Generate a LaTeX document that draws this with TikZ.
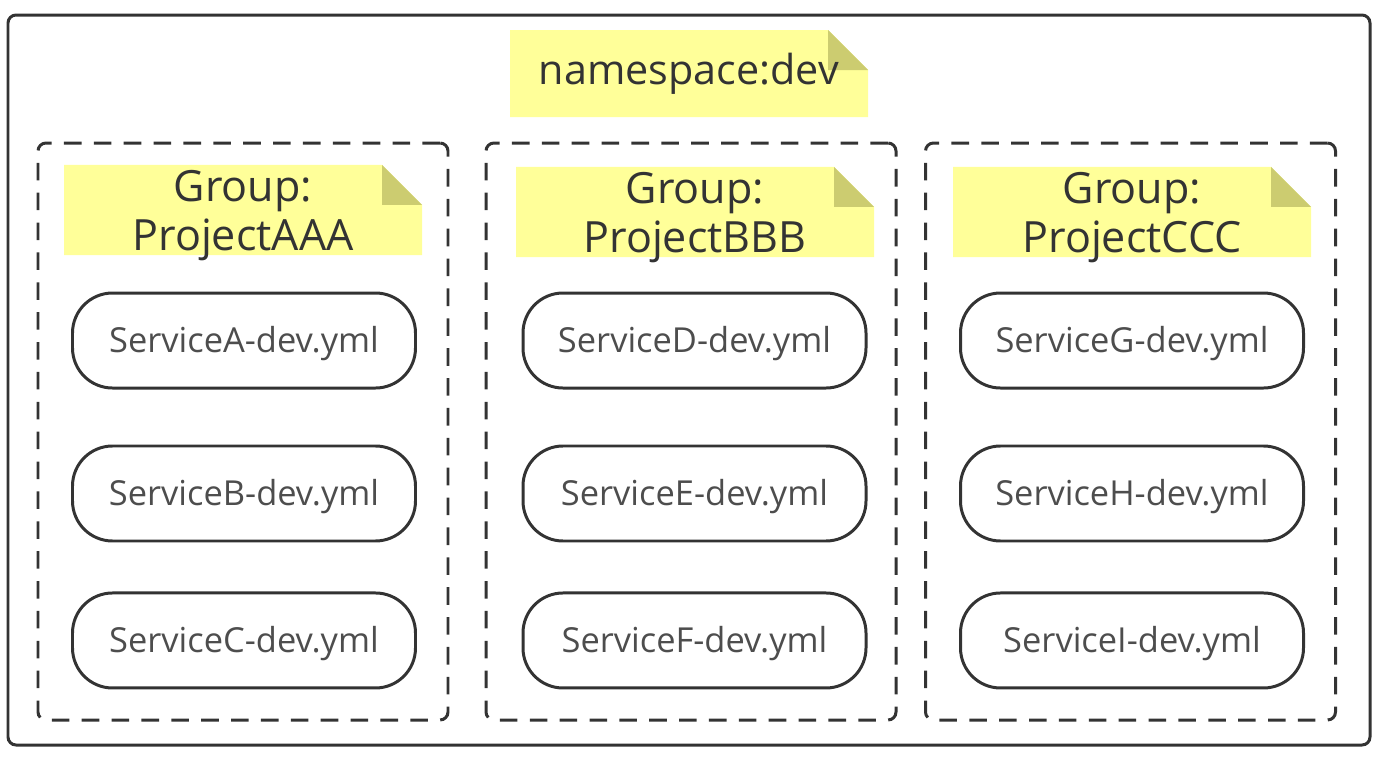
\documentclass[tikz,border=0pt]{standalone}
\usepackage{fontspec}
\setmainfont{Open Sans}
\usepackage{tikz}
\usetikzlibrary{positioning,calc}
\definecolor{notefill}{HTML}{FFFF99}
\definecolor{foldfill}{HTML}{CCCC70}
\definecolor{linegray}{HTML}{333333}
\definecolor{textgray}{HTML}{4D4D4D}
\tikzset{
frame/.style = {draw=linegray, line width=1.7pt, rectangle, rounded corners=0.16cm, minimum width=27.24cm, minimum height=14.6cm},
group/.style = {draw=linegray, line width=1.7pt, rectangle, rounded corners=0.16cm, dash pattern=on 10pt off 7pt, minimum width=8.2cm, minimum height=11.54cm},
note/.style = {rectangle, minimum width=7.16cm, minimum height=1.74cm, inner sep=0pt, align=center, text=linegray,
  font=\fontsize{24.5}{27.8}\selectfont,
  path picture={
    \fill[notefill] (path picture bounding box.south west) -- (path picture bounding box.south east)
      -- ([yshift=-0.8cm]path picture bounding box.north east) -- ([xshift=-0.8cm]path picture bounding box.north east)
      -- (path picture bounding box.north west) -- cycle;
    \fill[foldfill] ([xshift=-0.8cm]path picture bounding box.north east) -- ([yshift=-0.8cm]path picture bounding box.north east)
      -- ([xshift=-0.8cm,yshift=-0.8cm]path picture bounding box.north east) -- cycle;
  }},
service/.style = {draw=linegray, line width=1.7pt, rectangle, rounded corners=0.8cm, minimum width=6.86cm, minimum height=1.9cm, text=textgray, font=\fontsize{19.6}{23}\selectfont},
}
\newcommand{\grouptext}[1]{\raisebox{-0.12cm}[\height][\depth]{\parbox{7cm}{\centering Group:\\#1}}}
\newcommand{\svctext}[1]{\raisebox{-0.06cm}[\height][\depth]{#1}}
\begin{document}
\begin{tikzpicture}
      \useasboundingbox (0,0) rectangle (27.68,-15.2);
      \node [frame] (outer) at (13.78,-7.6) {};
      \node [note, font=\fontsize{23.5}{27}\selectfont] (nsnote) at (13.78,-1.47) {namespace:dev};
      % groups
      \node [group] (grpA) at (4.86,-8.63) {};
      \node [group] (grpB) at (13.82,-8.63) {};
      \node [group] (grpC) at (22.61,-8.63) {};
      \node [note] (noteA) at (4.86,-4.2) {\grouptext{ProjectAAA}};
      \node [note] (noteB) at (13.9,-4.24) {\grouptext{ProjectBBB}};
      \node [note] (noteC) at (22.64,-4.24) {\grouptext{ProjectCCC}};
      % services
      \node [service] (svcA) at (4.88,-6.81) {\svctext{ServiceA-dev.yml}};
      \node [service, below=1.1cm of svcA] (svcB) {\svctext{ServiceB-dev.yml}};
      \node [service, below=0.98cm of svcB] (svcC) {\svctext{ServiceC-dev.yml}};
      \node [service] (svcD) at (13.89,-6.81) {\svctext{ServiceD-dev.yml}};
      \node [service, below=1.1cm of svcD] (svcE) {\svctext{ServiceE-dev.yml}};
      \node [service, below=0.98cm of svcE] (svcF) {\svctext{ServiceF-dev.yml}};
      \node [service] (svcG) at (22.64,-6.81) {\svctext{ServiceG-dev.yml}};
      \node [service, below=1.1cm of svcG] (svcH) {\svctext{ServiceH-dev.yml}};
      \node [service, below=0.98cm of svcH] (svcI) {\svctext{ServiceI-dev.yml}};
\end{tikzpicture}
\end{document}
